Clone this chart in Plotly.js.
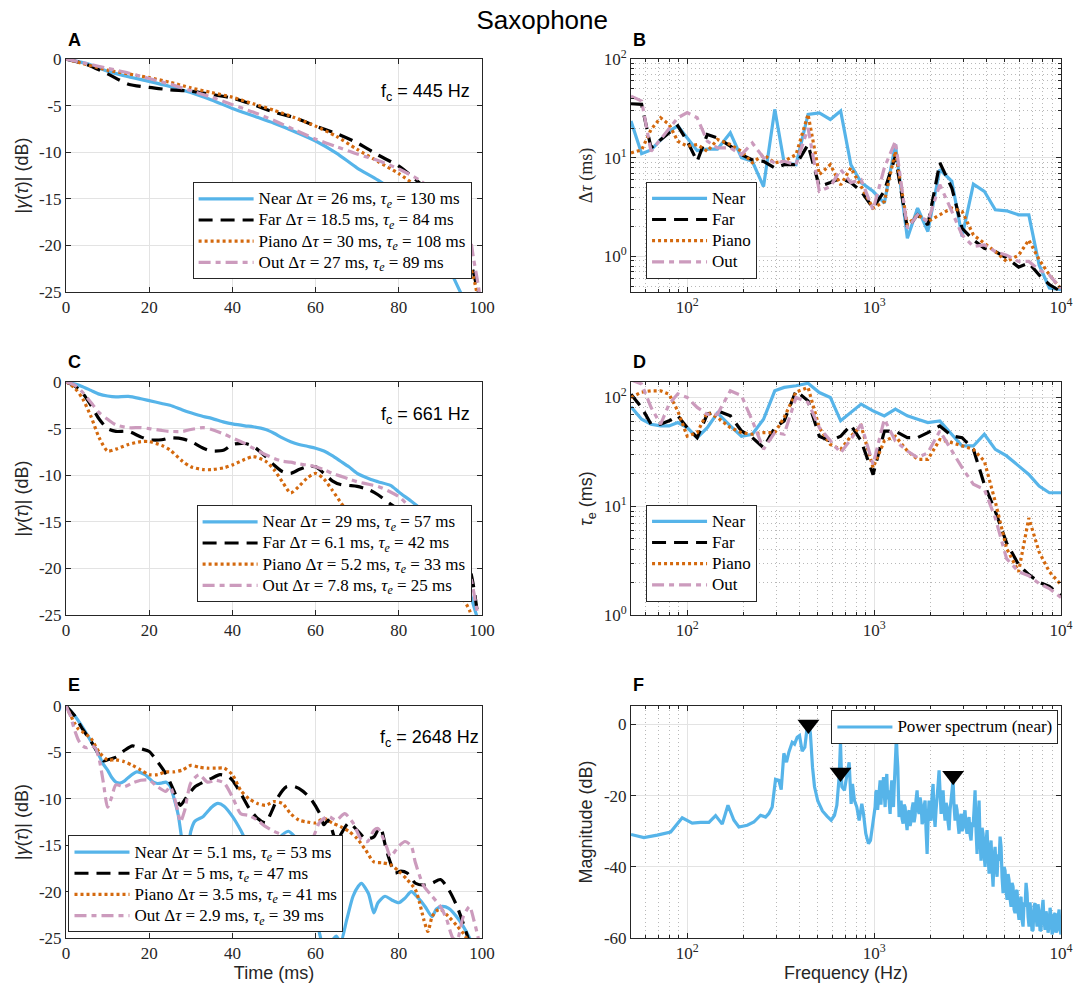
<!DOCTYPE html>
<html>
<head>
<meta charset="utf-8">
<script src="https://cdn.plot.ly/plotly-3.0.1.min.js"></script>
<style>
  html, body { margin: 0; padding: 0; background: #ffffff; }
  #chart { width: 1078px; height: 994px; }
</style>
</head>
<body>
<div id="chart"></div>
<script>
// ---------- Panel A: |gamma(tau)| at fc = 445 Hz ----------
const timeA = [0, 5, 10, 15, 20, 25, 30, 35, 40, 45, 50, 55, 60, 65, 70, 75, 80, 85, 90, 93, 95, 97, 98, 99, 100];
const nearA  = [0, -0.5, -1.3, -1.9, -2.4, -2.95, -3.6, -4.4, -5.3, -6.1, -6.9, -7.8, -8.8, -10.1, -11.7, -13.0, -14.6, -17.0, -20.3, -23.3, -25.2, -27, -28, -29, -30];
const farA   = [0, -0.6, -1.6, -2.7, -3.05, -3.3, -3.45, -3.8, -4.2, -4.9, -5.7, -6.3, -7.2, -8.0, -9.0, -10.3, -11.5, -13.3, -15.3, -17.0, -18.7, -21.5, -23, -25, -27];
const pianoA = [0, -0.6, -1.2, -1.6, -2.0, -2.5, -3.1, -3.6, -4.1, -4.8, -5.5, -6.3, -7.2, -8.3, -9.7, -11.0, -12.3, -13.9, -15.8, -17.5, -19.2, -22, -23.5, -25.5, -27];
const outA   = [0, -0.5, -1.0, -1.5, -2.1, -2.7, -3.4, -4.1, -4.9, -5.7, -6.6, -7.6, -8.6, -9.4, -10.2, -10.9, -11.8, -13.0, -14.8, -16.2, -17.5, -19.0, -21.5, -24, -27];
const legendA = [
  'Near Δ<i>τ</i> = 26 ms, <i>τ<sub>e</sub></i> = 130 ms',
  'Far Δ<i>τ</i> = 18.5 ms, <i>τ<sub>e</sub></i> = 84 ms',
  'Piano Δ<i>τ</i> = 30 ms, <i>τ<sub>e</sub></i> = 108 ms',
  'Out Δ<i>τ</i> = 27 ms, <i>τ<sub>e</sub></i> = 89 ms'
];

// ---------- Panel C: |gamma(tau)| at fc = 661 Hz ----------
const timeC = [0, 2, 4, 6, 8, 10, 12, 15, 18, 20, 23, 25, 28, 30, 33, 35, 38, 40, 43, 45, 48, 50, 52, 54, 56, 58, 60, 62, 64, 66, 68, 70, 73, 75, 78, 80, 83, 85, 87, 90, 93, 95, 97, 98, 99, 100];
const nearC  = [0, -0.2, -0.5, -0.9, -1.3, -1.5, -1.6, -1.55, -1.8, -2.0, -2.3, -2.5, -3.0, -3.3, -3.7, -3.9, -4.3, -4.5, -4.7, -4.8, -5.1, -5.5, -6.0, -6.4, -6.7, -6.9, -7.1, -7.4, -7.9, -8.5, -9.1, -9.8, -10.4, -10.7, -11.1, -11.8, -12.8, -13.5, -14.6, -16.3, -18.5, -20.3, -22.5, -24, -25.5, -27];
const farC   = [0, -0.4, -1.2, -2.5, -4.0, -5.0, -5.3, -5.3, -5.9, -6.2, -6.2, -6.0, -6.1, -6.4, -7.1, -7.4, -7.3, -6.7, -6.6, -6.9, -8.0, -8.9, -9.6, -9.8, -9.4, -9.1, -9.1, -9.8, -10.6, -11.0, -11.1, -11.2, -11.6, -12.1, -13.1, -13.7, -14.7, -15.5, -16.0, -17.0, -18.0, -18.8, -20.0, -22.0, -25.0, -27];
const pianoC = [0, -0.6, -1.8, -3.7, -6.0, -7.4, -7.2, -6.7, -6.4, -6.4, -6.8, -7.3, -8.5, -9.1, -9.4, -9.4, -9.2, -8.9, -8.3, -8.0, -8.5, -9.4, -10.7, -11.9, -11.2, -10.3, -9.8, -10.4, -11.6, -12.9, -14.1, -15.0, -16.2, -17.0, -18.0, -18.5, -19.4, -20.0, -20.6, -21.5, -22.4, -23.0, -24.5, -26, -27, -28];
const outC   = [0, -0.3, -1.1, -2.2, -3.3, -4.0, -4.6, -4.9, -4.9, -5.0, -5.2, -5.3, -5.3, -5.1, -4.9, -5.1, -5.6, -6.0, -6.6, -7.1, -7.8, -8.2, -8.5, -8.6, -8.8, -8.9, -9.1, -9.4, -9.8, -10.1, -10.4, -10.7, -11.0, -11.2, -11.8, -12.3, -13.5, -13.9, -14.8, -16.0, -17.8, -19.0, -20.5, -22.5, -25.0, -27];
const legendC = [
  'Near Δ<i>τ</i> = 29 ms, <i>τ<sub>e</sub></i> = 57 ms',
  'Far Δ<i>τ</i> = 6.1 ms, <i>τ<sub>e</sub></i> = 42 ms',
  'Piano Δ<i>τ</i> = 5.2 ms, <i>τ<sub>e</sub></i> = 33 ms',
  'Out Δ<i>τ</i> = 7.8 ms, <i>τ<sub>e</sub></i> = 25 ms'
];

// ---------- Panel E: |gamma(tau)| at fc = 2648 Hz ----------
const timeNearE = [0, 2, 4, 6, 8, 9, 10, 11, 12, 13, 14, 15, 17, 19, 20, 21, 22, 23, 24, 25, 26, 27, 28, 29, 30, 31, 33, 35, 36.5, 38, 40, 42, 44, 45.5, 47, 48.5, 50, 52, 53.5, 55, 57, 58.5, 60, 61, 62, 63.5, 65, 66, 67.5, 69, 70.3, 71, 72.7, 74, 75, 76.7, 78.3, 80, 81.5, 83, 84.7, 86.3, 88, 89, 90.4, 92, 94.4, 96.8, 98, 100];
const nearE     = [0, -1.0, -2.3, -3.8, -5.4, -6.3, -6.9, -7.7, -8.2, -8.3, -8.1, -7.7, -7.1, -7.4, -7.8, -8.2, -8.35, -8.3, -8.2, -8.6, -10, -11.8, -14.8, -16.5, -13.5, -12.4, -11.9, -10.9, -10.5, -10.8, -11.9, -13.4, -15.2, -16, -14.8, -14.6, -15.0, -13.9, -13.5, -14.1, -15.3, -18, -22, -24.6, -26, -25.5, -24.8, -25.5, -23, -20.5, -19.4, -19.1, -20.2, -22.3, -21.2, -20.5, -20.9, -21.2, -20.7, -20.0, -20.7, -21.6, -22.7, -21.9, -21.6, -21.8, -23, -24.8, -26, -28];
const timeFarE  = [0, 2, 4, 6, 8, 9, 10, 12, 14, 16, 18, 20, 22, 24, 26, 27.5, 29, 31, 33, 35, 37, 39, 40, 42, 44, 46, 48, 49, 50, 51, 53, 55, 57, 59, 61, 62, 63, 64, 65, 66, 68, 70, 72, 74, 75.5, 77, 78, 79, 80.5, 82, 84, 86, 88, 90, 92, 94, 96, 97, 100];
const farE      = [0, -1.0, -2.5, -3.8, -5.3, -5.9, -5.8, -5.5, -4.8, -4.3, -4.6, -4.9, -6.0, -7.3, -9.2, -10.7, -9.8, -8.7, -8.2, -7.8, -7.4, -7.6, -8.0, -9.4, -11.0, -12.1, -12.6, -11.8, -10.8, -9.8, -8.7, -8.7, -9.2, -10.1, -11.6, -12.8, -12.3, -13.4, -14.8, -13.9, -12.6, -13.4, -14.3, -14.1, -13.0, -15.5, -16.9, -18, -17.8, -18, -19.1, -19.3, -19.1, -18.7, -19.8, -21.6, -24.1, -25.5, -29];
const timePianoE = [0, 2, 3, 4, 6, 8, 10, 12, 14, 16, 18, 20, 22, 24, 26, 28, 30, 32, 34, 36, 38, 40, 42, 44, 46, 48, 50, 52, 54, 56, 58, 60, 62, 64, 66, 68, 70, 72, 74, 76, 78, 80, 82, 84, 85, 86, 87, 88, 89, 90, 92, 94, 96, 97, 100];
const pianoE     = [0, -1.8, -2.5, -2.8, -3.5, -5.0, -5.8, -5.8, -6.0, -6.4, -6.9, -7.4, -7.4, -7.1, -7.1, -6.9, -6.4, -6.6, -6.7, -6.7, -6.7, -7.4, -9.1, -10.0, -10.5, -10.7, -10.3, -10.5, -11.6, -12.3, -12.5, -12.6, -12.1, -12.6, -13.0, -13.5, -14.3, -15.5, -16.8, -16.9, -17.1, -17.8, -18.7, -19.8, -21.2, -23, -24.3, -22.7, -22.1, -21.9, -22.7, -23.7, -24.8, -26, -29];
const timeOutE  = [0, 1, 2, 3, 4, 5, 6, 7, 8, 9, 10, 11, 12, 14, 16, 18, 20, 22, 24, 25, 26, 27, 27.5, 28.5, 30, 32, 34, 36, 38, 40, 42, 44, 46, 48, 50, 52, 54, 56, 58, 59.5, 61, 63, 65, 67, 69, 71, 72.5, 74, 75, 77, 78, 80, 81.5, 83, 84, 86, 88, 90, 91.5, 93, 94, 95.5, 97, 98, 99, 100];
const outE      = [0, -1.0, -2.5, -3.7, -4.3, -4.5, -4.3, -4.5, -5.8, -8.3, -10.9, -9.8, -8.5, -8.7, -8.3, -8.0, -8.0, -8.7, -9.2, -8.7, -9.8, -11.6, -12.5, -11.3, -8.3, -7.4, -8.2, -8.0, -8.3, -9.8, -11.6, -11.8, -12.3, -13.0, -13.5, -13.9, -14.4, -15.1, -15.5, -14.1, -12.5, -11.9, -12.3, -11.6, -12.6, -14.4, -14.6, -13.4, -13.2, -15.1, -16.2, -15.1, -14.6, -15.1, -16.9, -19.4, -20.5, -21.6, -23, -25, -25.2, -22.7, -21.6, -23, -24.8, -27];
const legendE = [
  'Near Δ<i>τ</i> = 5.1 ms, <i>τ<sub>e</sub></i> = 53 ms',
  'Far Δ<i>τ</i> = 5 ms, <i>τ<sub>e</sub></i> = 47 ms',
  'Piano Δ<i>τ</i> = 3.5 ms, <i>τ<sub>e</sub></i> = 41 ms',
  'Out Δ<i>τ</i> = 2.9 ms, <i>τ<sub>e</sub></i> = 39 ms'
];

// ---------- Panels B and D: band centre frequencies (Hz) ----------
const bandFreq = [50, 57, 64, 72, 80, 89, 100, 113, 128, 145, 170, 195, 223, 256, 294, 330, 382, 443, 509, 583, 662, 751, 852, 987, 1134, 1299, 1506, 1709, 1939, 2247, 2605, 2956, 3398, 3888, 4450, 5114, 5930, 6727, 7636, 8663, 10000];

// Panel B: delta tau (ms)
const dtauNear  = [23.5, 11, 12, 15.3, 18.6, 21, 15.9, 11.8, 12.2, 12.2, 17.9, 10, 9.2, 5.1, 30.9, 8.9, 8.5, 27.5, 28.5, 24.4, 29.7, 8.5, 5.6, 4.57, 3.47, 13.6, 1.53, 3.09, 1.79, 7.6, 5.77, 1.59, 5.4, 4.57, 2.97, 2.9, 2.64, 2.64, 0.82, 0.48, 0.46];
const dtauFar   = [35.2, 34.7, 12.6, 15.3, 17.9, 21, 14.7, 9.2, 17.2, 15.9, 13.1, 10.75, 9.5, 9.2, 7.9, 8.5, 8.5, 13.6, 5.1, 5.6, 6.2, 5.6, 4.57, 3.09, 4.6, 10.3, 1.93, 2.64, 2.09, 8.9, 4.94, 1.93, 1.47, 1.21, 1.12, 0.97, 0.78, 0.86, 0.65, 0.52, 0.44];
const dtauPiano = [11.2, 12, 19.3, 25.4, 21.7, 14.7, 13.1, 13.6, 11.6, 15.3, 13.6, 11.6, 8.9, 10.75, 8.9, 9.2, 10.75, 27.5, 6.75, 8.5, 5.3, 7.9, 5.1, 3.09, 3.6, 11.6, 2.09, 2.64, 2.26, 2.64, 3.09, 2.86, 1.65, 1.36, 1.12, 0.89, 1.03, 1.47, 0.93, 0.65, 0.47];
const dtauOut   = [42.1, 37.5, 11.6, 15.3, 20.1, 25.4, 28.6, 25.4, 14.7, 12.6, 12.6, 10.75, 14.1, 10, 8.9, 9.2, 8.5, 20, 4.57, 5.1, 7.6, 5.6, 6.0, 2.97, 7.9, 14.7, 1.93, 2.64, 2.26, 5.34, 2.86, 1.65, 1.26, 1.31, 1.12, 1.03, 0.89, 0.89, 0.73, 0.65, 0.47];

// Panel D: tau_e (ms)
const tauNear  = [82, 63, 56.7, 54.7, 54.7, 58.8, 52.8, 42.7, 52.8, 72, 54.7, 44, 45.9, 63, 115, 123.7, 128, 135, 111, 100, 61, 72.7, 86.8, 75.3, 67.7, 78, 67.7, 63, 58.8, 60.9, 45.9, 35.8, 35.8, 45.9, 33.3, 29, 23.5, 19.6, 15.3, 13.3, 13.3];
const tauFar   = [107, 81, 56.7, 56.7, 61, 68, 52.8, 42.7, 70.2, 75.3, 67.7, 49.2, 42.7, 34.5, 52.8, 60.9, 115, 93, 44, 39.8, 44, 55.5, 39.8, 19.5, 49, 49, 42.7, 42.7, 47.5, 54.7, 44.3, 42.7, 33.3, 15.9, 9, 4.6, 2.9, 2.35, 2.0, 1.83, 1.5];
const tauPiano = [100, 112, 115, 115, 107, 75, 44, 47.5, 72.6, 65.4, 52.8, 47.5, 45.9, 47.5, 47.5, 65.4, 112, 123.7, 52.8, 37, 33.3, 44, 54.7, 22.6, 39.8, 44, 32.2, 27, 27, 41, 38.4, 35.8, 33.3, 26, 11, 4.1, 2.5, 7.8, 3.8, 2.5, 1.9];
const tauOut   = [145, 133, 81, 56.7, 87, 108, 100, 81, 70, 70, 115, 104, 61, 33.4, 47.5, 45.9, 100, 90, 52.8, 39.8, 31, 41.3, 56.7, 24.2, 63, 39.8, 32.2, 27.9, 31, 49.2, 32.2, 22.6, 15.9, 14.3, 7.8, 3.3, 2.5, 2.3, 1.95, 1.75, 1.45];

const seriesNames = ['Near', 'Far', 'Piano', 'Out'];

// ---------- Panel F: power spectrum of the near microphone ----------
const specFreq = [50, 58.6, 69.1, 81.5, 94, 106.3, 117.8, 130.6, 141.8, 153.9, 165.1, 177.7, 189, 209.4, 227.3, 246.7, 262.4, 273.4, 284.8, 296.8, 309.2, 318.2, 328.8, 339.8, 349.7, 364.4, 375, 387.5, 398.8, 412.1, 425.9, 438.3, 447.4, 456, 468, 479.7, 499.6, 529, 560.8, 589, 613.7, 631.6, 649.8, 660.7, 671.6, 693.9, 714.1, 735, 753.4, 765.8, 785, 807.9, 831.5, 859.2, 877, 902.5, 932.6, 955.8, 983.8,
  1012, 1022, 1033, 1044, 1055, 1066, 1077, 1088, 1099, 1110, 1122, 1133, 1145, 1157, 1169, 1181, 1193, 1205, 1218, 1230, 1243, 1256, 1269, 1282, 1295, 1305, 1316, 1327, 1339, 1350, 1360, 1377, 1394, 1411, 1429, 1447, 1465, 1483, 1501, 1520, 1539, 1558, 1577, 1597, 1617, 1637, 1657, 1677, 1698, 1719, 1741, 1762, 1784, 1806, 1829, 1851, 1874, 1897, 1921, 1944, 1968, 1992,
  2017, 2042, 2068, 2093, 2119, 2145, 2172, 2199, 2226, 2254, 2282, 2310, 2339, 2368, 2397, 2427, 2457, 2487, 2518, 2549, 2581, 2613, 2645, 2678, 2711, 2745, 2779, 2813, 2848, 2883, 2919, 2955, 2992,
  3028, 3066, 3104, 3143, 3182, 3221, 3262, 3302, 3343, 3384, 3426, 3469, 3512, 3555, 3600, 3644, 3690, 3735, 3781, 3828, 3876, 3924, 3973, 4022, 4072, 4122, 4173, 4225, 4277, 4330, 4384, 4438, 4493, 4549, 4605, 4662, 4720, 4779, 4838, 4898, 4959,
  5020, 5082, 5145, 5209, 5273, 5339, 5405, 5472, 5540, 5609, 5678, 5748, 5819, 5891, 5964, 6038, 6113, 6189, 6266, 6344, 6422, 6502, 6582, 6664, 6746, 6830, 6914, 7000, 7087, 7175, 7263, 7353, 7444, 7537, 7630, 7725, 7820, 7917,
  8015, 8115, 8215, 8317, 8420, 8525, 8630, 8740, 8850, 8960, 9070, 9185, 9300, 9415, 9530, 9650, 9770, 9885, 10000];
const specMag = [-30.9, -31.8, -31.1, -30.2, -26.2, -27.7, -27.5, -27.5, -25.6, -28.0, -22.7, -26.9, -28.8, -28.3, -27.4, -25.5, -26.0, -25.0, -23.2, -15.4, -15.7, -18.3, -8.1, -10.6, -7.8, -5.0, -5.5, -3.6, -3.1, -7.5, -6.4, -0.7, 0, -2.5, -12, -17.5, -21.5, -24.3, -25.8, -26.9, -25.5, -22.7, -14.8, -5.0, -17.5, -18.5, -14.3, -10.6, -22.3, -16.7, -21.4, -23.2, -27.0, -22.3, -25.1, -30.7, -33.5, -32.6, -27.9,
  -23.2, -19.0, -18.5, -24.0, -21.4, -17.0, -15.7, -22.5, -17.5, -20.0, -14.8, -19.5, -23.2, -17.0, -13.9, -21.0, -18.5, -22.0, -25.1, -19.0, -15.7, -20.5, -23.2, -17.0, -12.0, -6.0, -3.6, -8.5, -12.0, -20.0, -26.0, -23.0, -21.4, -26.5, -27.9, -22.5, -23.2, -27.0, -29.7, -25.0, -24.1, -28.5, -27.0, -23.5, -21.9, -27.5, -25.6, -21.0, -18.5, -24.0, -25.1, -20.5, -22.3, -28.0, -27.0, -23.0, -21.4, -30.0, -36.4, -27.0, -21.4, -25.5,
  -27.0, -20.0, -16.7, -25.0, -28.8, -24.0, -21.4, -17.0, -12.9, -21.0, -25.1, -21.0, -18.5, -24.0, -27.0, -22.0, -23.2, -27.5, -29.7, -24.0, -21.4, -19.0, -15.7, -23.0, -27.0, -22.5, -24.1, -28.0, -30.7, -26.5, -25.1, -30.0, -28.8,
  -25.5, -24.1, -29.0, -30.7, -27.2, -26.0, -31.0, -32.6, -27.5, -28.8, -24.0, -18.5, -30.0, -36.4, -27.0, -21.4, -33.0, -38.3, -29.0, -30.7, -36.5, -40.0, -33.0, -29.7, -37.0, -41.9, -35.5, -32.6, -40.5, -45.6, -37.0, -34.4, -40.0, -42.8, -36.5, -38.3, -31.5, -34.4, -43.0, -47.4, -40.0,
  -41.0, -46.5, -49.3, -42.0, -43.7, -49.0, -51.2, -44.5, -45.6, -52.0, -53.0, -47.0, -46.5, -52.5, -54.9, -49.5, -48.4, -55.0, -56.8, -50.0, -51.2, -44.5, -47.4, -54.0, -56.8, -50.0, -53.0, -58.0, -57.7, -51.0, -50.2, -55.5, -56.8, -50.5, -53.0, -58.0, -57.7, -52.0,
  -49.3, -55.0, -57.7, -52.5, -54.0, -58.5, -56.8, -51.5, -54, -59, -58, -53.5, -53, -58.5, -57.5, -54, -52, -58, -59];
// Analysis centre frequencies marked on the spectrum
const markFreq = [445, 661, 2648];
const markMag  = [0, -13.5, -14.4];

// ---------- shared tick values ----------
const timeTicks = [0, 20, 40, 60, 80, 100];
const dbTicks = [-25, -20, -15, -10, -5, 0];
const dbTickText = ['-25', '-20', '-15', '-10', '-5', '0'];
const specTicks = [-60, -40, -20, 0];
const specTickText = ['-60', '-40', '-20', '0'];
const freqTicks = [100, 1000, 10000];
const freqTickText = ['10<sup>2</sup>', '10<sup>3</sup>', '10<sup>4</sup>'];
const freqMinor = [60, 70, 80, 90, 200, 300, 400, 500, 600, 700, 800, 900, 2000, 3000, 4000, 5000, 6000, 7000, 8000, 9000];
const logTicks = [1, 10, 100];
const logTickText = ['10<sup>0</sup>', '10<sup>1</sup>', '10<sup>2</sup>'];
const logMinorB = [0.5, 0.6, 0.7, 0.8, 0.9, 2, 3, 4, 5, 6, 7, 8, 9, 20, 30, 40, 50, 60, 70, 80, 90];
const logMinorD = [2, 3, 4, 5, 6, 7, 8, 9, 20, 30, 40, 50, 60, 70, 80, 90];

// ---------- styling ----------
const SERIF = 'Liberation Serif';
const SANS = 'Liberation Sans';
const INK = '#262626';
const colors = { Near: '#56B4E9', Far: '#000000', Piano: '#D4690E', Out: '#CC9BBD' };
const lineStyles = {
  Near:  { width: 3.2, dash: 'solid' },
  Far:   { width: 3.2, dash: '14px,8px' },
  Piano: { width: 3.2, dash: '3px,3px' },
  Out:   { width: 3.2, dash: '12px,5px,5px,5px' }
};
// legend rows are spaced by the small base size; the label itself is drawn a bit larger
const LEGEND_ROW_SIZE = 14;
const LEGEND_TEXT_SIZE = 17;
const legendLabel = s => '<span style="font-size:' + LEGEND_TEXT_SIZE + 'px">' + s + '</span>';

// figure geometry (pixels) -> paper fractions
const W = 1078, H = 994;
const M = { l: 66, r: 17, t: 59, b: 56 };
const pw = W - M.l - M.r, ph = H - M.t - M.b;
const px = v => (v - M.l) / pw;
const py = v => (H - M.b - v) / ph;
const leftX = [0, px(482)], rightX = [px(631), 1];
const row1 = [py(292), 1], row2 = [py(615), py(382)], row3 = [0, py(706)];

function baseAxis(extra) {
  return Object.assign({
    showline: true, linecolor: INK, linewidth: 1, mirror: 'allticks',
    ticks: 'inside', ticklen: 5, tickcolor: INK, tickwidth: 1,
    showgrid: true, gridcolor: '#e3e3e3', gridwidth: 1, zeroline: false,
    tickfont: { family: SERIF, size: 17, color: INK }, fixedrange: true,
    automargin: false
  }, extra);
}
function timeAxis(domain, anchor, title) {
  const ax = baseAxis({ domain, anchor, range: [0, 100], tickmode: 'array', tickvals: timeTicks });
  if (title) ax.title = { text: title, font: { family: SANS, size: 18, color: INK }, standoff: 3 };
  return ax;
}
function dbAxis(domain, anchor) {
  return baseAxis({
    domain, anchor, range: [-25, 0], tickmode: 'array', tickvals: dbTicks, ticktext: dbTickText,
    title: { text: '|<i>γ</i>(<i>τ</i>)| (dB)', font: { family: SANS, size: 18, color: INK }, standoff: 5 }
  });
}
function minorGrid(vals) {
  return { tickmode: 'array', tickvals: vals, showgrid: true, gridcolor: '#b8b8b8', griddash: '1px,3px', gridwidth: 1, ticks: 'inside', ticklen: 3, tickcolor: INK };
}
function freqAxis(domain, anchor, title) {
  const ax = baseAxis({
    domain, anchor, type: 'log', range: [Math.log10(50), 4],
    tickmode: 'array', tickvals: freqTicks, ticktext: freqTickText, minor: minorGrid(freqMinor)
  });
  if (title) ax.title = { text: title, font: { family: SANS, size: 18, color: INK }, standoff: 3 };
  return ax;
}
function logAxis(domain, anchor, range, minorVals, title, titleFont) {
  return baseAxis({
    domain, anchor, type: 'log', range,
    tickmode: 'array', tickvals: logTicks, ticktext: logTickText, minor: minorGrid(minorVals),
    title: { text: title, font: Object.assign({ size: 18, color: INK }, titleFont), standoff: 6 }
  });
}

const traces = [];
function addCurves(xs, ys, names, xa, ya, legendId, shape) {
  seriesNames.forEach((key, i) => {
    traces.push({
      type: 'scatter', mode: 'lines', x: xs[i], y: ys[i], name: legendLabel(names[i]),
      xaxis: xa, yaxis: ya, legend: legendId, hoverinfo: 'skip',
      line: { color: colors[key], width: lineStyles[key].width, dash: lineStyles[key].dash, shape: shape, smoothing: 0.7 }
    });
  });
}

addCurves([timeA, timeA, timeA, timeA], [nearA, farA, pianoA, outA], legendA, 'x', 'y', 'legend', 'spline');
addCurves([bandFreq, bandFreq, bandFreq, bandFreq], [dtauNear, dtauFar, dtauPiano, dtauOut], seriesNames, 'x2', 'y2', 'legend2', 'linear');
addCurves([timeC, timeC, timeC, timeC], [nearC, farC, pianoC, outC], legendC, 'x3', 'y3', 'legend3', 'spline');
addCurves([bandFreq, bandFreq, bandFreq, bandFreq], [tauNear, tauFar, tauPiano, tauOut], seriesNames, 'x4', 'y4', 'legend4', 'linear');
addCurves([timeNearE, timeFarE, timePianoE, timeOutE], [nearE, farE, pianoE, outE], legendE, 'x5', 'y5', 'legend5', 'spline');

traces.push({
  type: 'scatter', mode: 'lines', x: specFreq, y: specMag, name: legendLabel('Power spectrum (near)'),
  xaxis: 'x6', yaxis: 'y6', legend: 'legend6', hoverinfo: 'skip',
  line: { color: colors.Near, width: 3.2 }
});
traces.push({
  type: 'scatter', mode: 'markers', x: markFreq, y: markMag, showlegend: false,
  xaxis: 'x6', yaxis: 'y6', hoverinfo: 'skip',
  marker: { symbol: 'triangle-down', size: 19, color: '#000000', line: { width: 0 } }
});

function legendBox(x, y, xanchor, yanchor) {
  return {
    x, y, xanchor, yanchor, xref: 'paper', yref: 'paper',
    bgcolor: '#ffffff', bordercolor: INK, borderwidth: 1,
    font: { family: SERIF, size: LEGEND_ROW_SIZE, color: '#000000' },
    tracegroupgap: 0, itemwidth: 55, itemclick: false, itemdoubleclick: false
  };
}

function fcLabel(text, xref, yref, x, y) {
  return { text, xref, yref, x, y, xanchor: 'right', yanchor: 'middle', showarrow: false,
           font: { family: SANS, size: 18, color: '#000000' } };
}
function panelLabel(text, xp, yp) {
  return { text: '<b>' + text + '</b>', xref: 'paper', yref: 'paper', x: px(xp), y: py(yp),
           xanchor: 'left', yanchor: 'middle', showarrow: false,
           font: { family: SANS, size: 18, color: '#000000' } };
}

const layout = {
  width: W, height: H,
  margin: M,
  paper_bgcolor: '#ffffff', plot_bgcolor: '#ffffff',
  title: { text: 'Saxophone', x: 0.503, xref: 'container', xanchor: 'center', y: 1 - 20 / H, yref: 'container', yanchor: 'middle',
           font: { family: SANS, size: 26, color: '#000000' } },
  showlegend: true,
  xaxis:  timeAxis(leftX, 'y'),
  yaxis:  dbAxis(row1, 'x'),
  xaxis2: freqAxis(rightX, 'y2'),
  yaxis2: logAxis(row1, 'x2', [-0.36, 2], logMinorB, 'Δ<i>τ</i> (ms)', { family: SERIF }),
  xaxis3: timeAxis(leftX, 'y3'),
  yaxis3: dbAxis(row2, 'x3'),
  xaxis4: freqAxis(rightX, 'y4'),
  yaxis4: logAxis(row2, 'x4', [0, 2.142], logMinorD, '<i>τ</i><sub>e</sub> (ms)', { family: SANS }),
  xaxis5: timeAxis(leftX, 'y5', 'Time (ms)'),
  yaxis5: dbAxis(row3, 'x5'),
  xaxis6: freqAxis(rightX, 'y6', 'Frequency (Hz)'),
  yaxis6: baseAxis({
    domain: row3, anchor: 'x6', range: [-60, 5.2], tickmode: 'array', tickvals: specTicks, ticktext: specTickText,
    title: { text: 'Magnitude (dB)', font: { family: SANS, size: 18, color: INK }, standoff: 6 }
  }),
  legend:  legendBox(0.975 * leftX[1], row1[0] + 0.055 * (row1[1] - row1[0]), 'right', 'bottom'),
  legend2: legendBox(rightX[0] + 0.035 * (1 - rightX[0]), row1[0] + 0.057 * (row1[1] - row1[0]), 'left', 'bottom'),
  legend3: legendBox(0.975 * leftX[1], row2[0] + 0.055 * (row2[1] - row2[0]), 'right', 'bottom'),
  legend4: legendBox(rightX[0] + 0.035 * (1 - rightX[0]), row2[0] + 0.057 * (row2[1] - row2[0]), 'left', 'bottom'),
  legend5: legendBox(0.006 * leftX[1], 0.024 * row3[1], 'left', 'bottom'),
  legend6: legendBox(rightX[0] + 0.994 * (1 - rightX[0]), 0.981 * row3[1], 'right', 'top'),
  annotations: [
    panelLabel('A', 66, 40), panelLabel('B', 631, 40),
    panelLabel('C', 66, 362), panelLabel('D', 631, 362),
    panelLabel('E', 66, 685), panelLabel('F', 631, 685),
    fcLabel('f<sub>c</sub> = 445 Hz', 'x domain', 'y domain', 0.975, 0.855),
    fcLabel('f<sub>c</sub> = 661 Hz', 'x3 domain', 'y3 domain', 0.975, 0.855),
    fcLabel('f<sub>c</sub> = 2648 Hz', 'x5 domain', 'y5 domain', 0.997, 0.858)
  ]
};

Plotly.newPlot('chart', traces, layout, { staticPlot: true, displayModeBar: false });
</script>
</body>
</html>
